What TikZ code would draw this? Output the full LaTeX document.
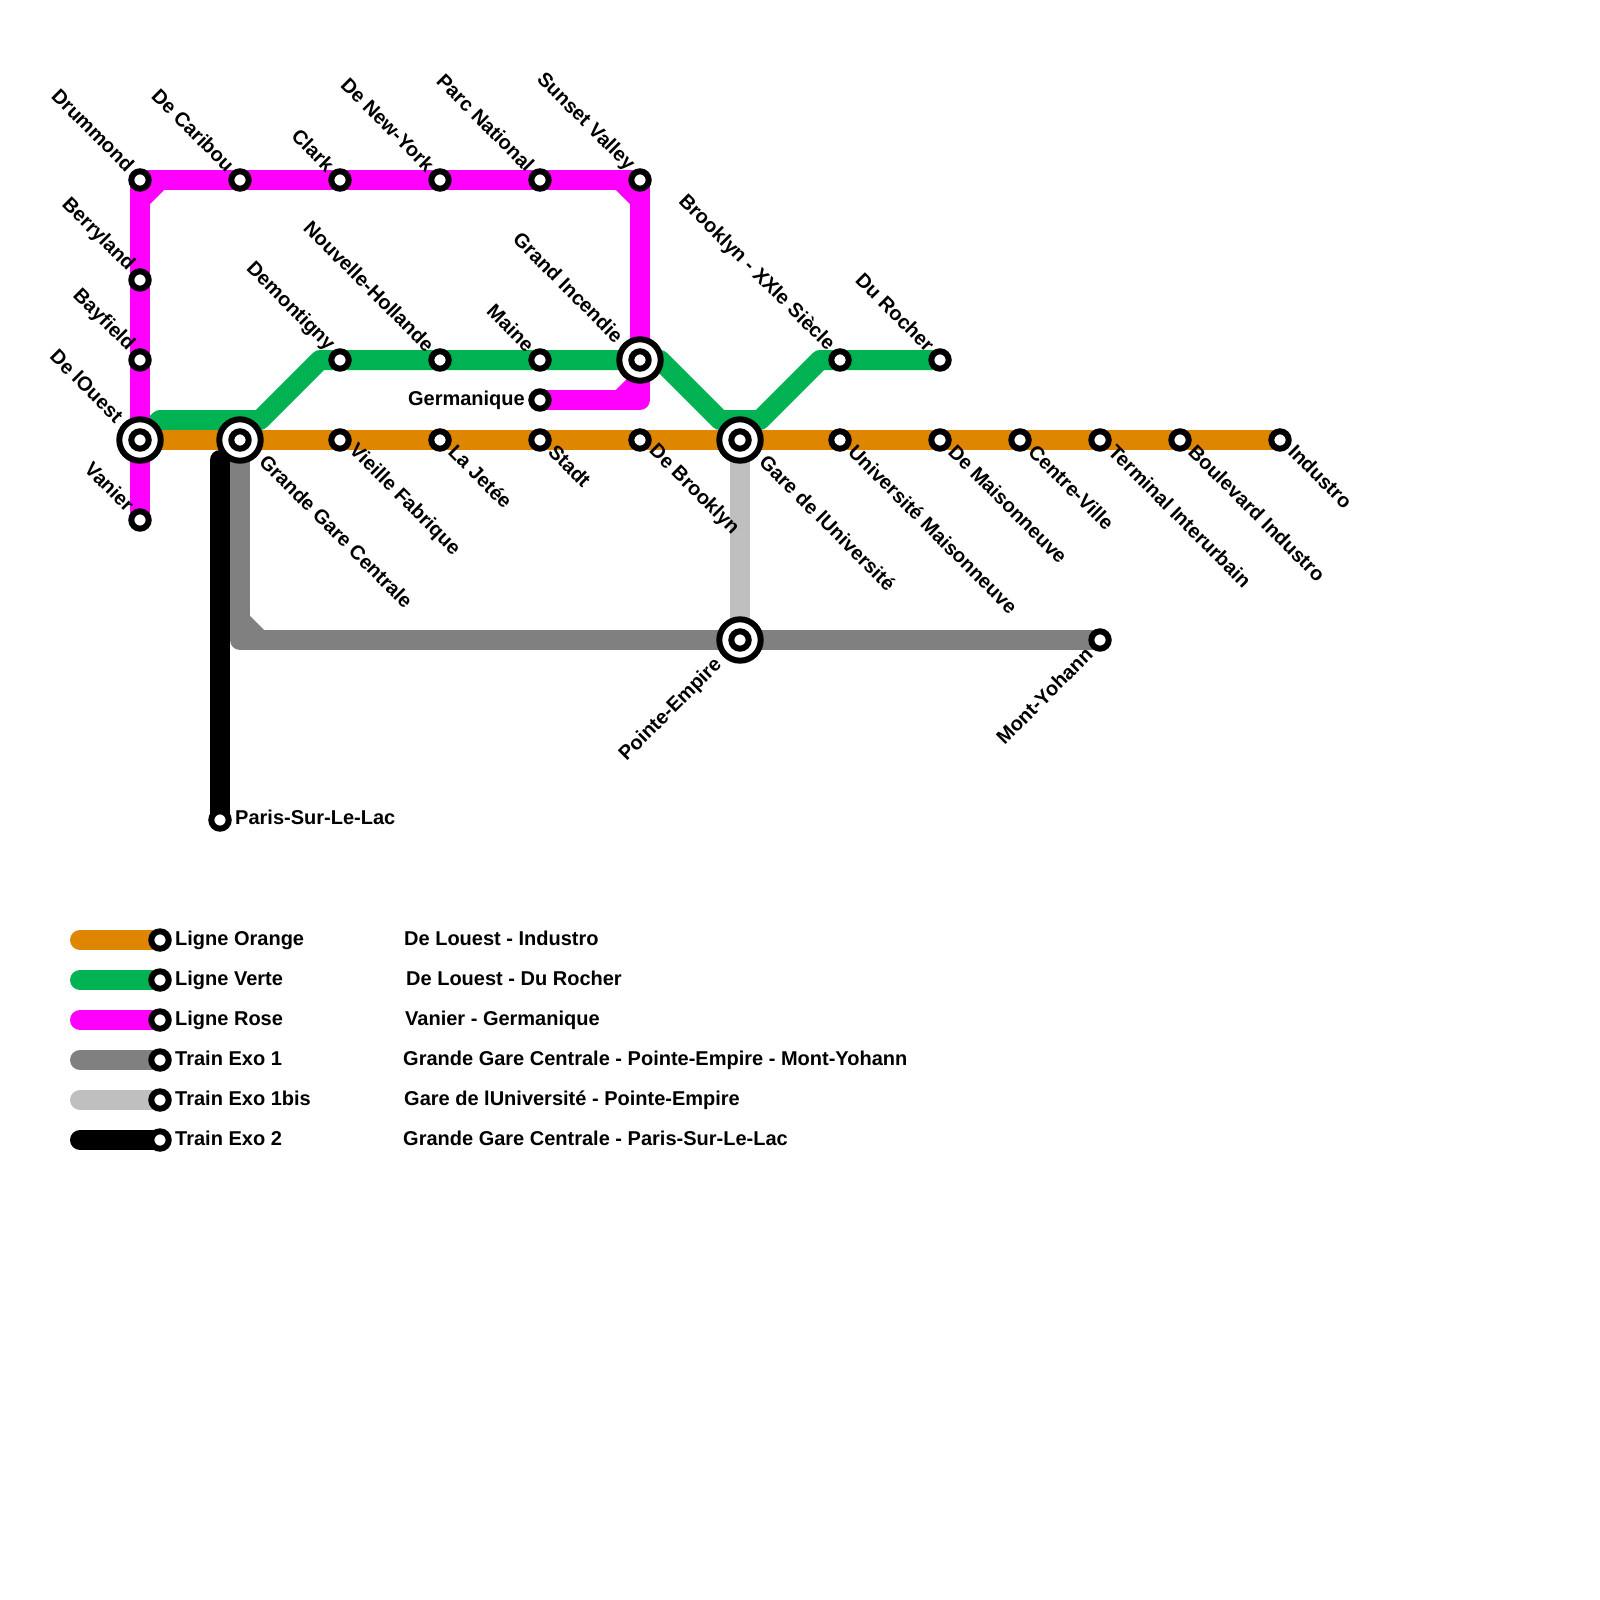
\documentclass[tikz,border=0pt]{standalone}
\usepackage{fontspec}
\setmainfont{Liberation Sans}[BoldFont={Liberation Sans Bold}]
\definecolor{lorange}{HTML}{DF8600}
\definecolor{lverte}{HTML}{00B251}
\definecolor{lrose}{HTML}{FF00FF}
\definecolor{lexoa}{HTML}{808080}
\definecolor{lexob}{HTML}{BFBFBF}
\tikzset{
 line/.style={line width=20pt,line join=round,line cap=round},
 stn/.style={circle,draw=black,fill=white,line width=6pt,minimum size=17.4pt,inner sep=0pt,outer sep=0pt},
 hub/.style={circle,draw=black,fill=white,line width=6pt,minimum size=41.4pt,inner sep=0pt,outer sep=0pt},
 txt/.style={font=\fontsize{20pt}{22pt}\selectfont\bfseries,inner sep=0pt,text=black},
 lnw/.style={txt,rotate=-45,anchor=east},
 lse/.style={txt,rotate=-45,anchor=west},
 lsw/.style={txt,rotate=45,anchor=east},
 leg/.style={txt,anchor=base west},
}
\begin{document}
\begin{tikzpicture}[x=1pt,y=-1pt]
\useasboundingbox (0,0) rectangle (1600,1600);
% stations
\foreach \n/\x/\y in {drummond/140/180,caribou/240/180,clark/340/180,newyork/440/180,parc/540/180,sunset/640/180,
 berryland/140/280,bayfield/140/360,ouest/140/440,vanier/140/520,
 demontigny/340/360,nouvelle/440/360,maine/540/360,incendie/640/360,germanique/540/400,
 brooklynxx/840/360,rocher/940/360,
 grande/240/440,vieille/340/440,jetee/440/440,stadt/540/440,debrooklyn/640/440,gareu/740/440,
 univ/840/440,maisonneuve/940/440,centre/1020/440,terminal/1100/440,boulevard/1180/440,industro/1280/440,
 empire/740/640,yohann/1100/640,paris/220/820,
 oa/160/940,va/160/980,ra/160/1020,ea/160/1060,ba/160/1100,ka/160/1140,
 oz/80/940,vz/80/980,rz/80/1020,ez/80/1060,bz/80/1100,kz/80/1140,
 g1/160/420,g2/260/420,g3/320/360,g4/660/360,g5/720/420,g6/760/420,g7/820/360,
 r1/140/200,r2/160/180,r3/620/180,r4/640/200,r5/640/380,r6/620/400,r7/640/400,
 e1/240/620,e2/260/640,e3/240/640,k1/220/460}
 {\coordinate (\n) at (\x,\y);}
% lines
\draw[line,lexoa] (grande) -- (e3) -- (yohann);
\fill[lexoa] (e1) -- (e2) -- (e3) -- cycle;
\draw[line,lexob,line cap=butt] (gareu) -- (empire);
\draw[line,black] (k1) -- (paris);
\draw[line,lverte] (ouest) -- (g1) -- (g2) -- (g3) -- (g4) -- (g5) -- (g6) -- (g7) -- (rocher);
\draw[line,lrose] (vanier) -- (drummond) -- (sunset) -- (r7) -- (germanique);
\fill[lrose] (r1) -- (r2) -- (drummond) -- cycle;
\fill[lrose] (r3) -- (r4) -- (sunset) -- cycle;
\fill[lrose] (r5) -- (r6) -- (r7) -- cycle;
\draw[line,lrose,line cap=butt] (r1) -- (r2);
\draw[line,lrose,line cap=butt] (r3) -- (r4);
\draw[line,lrose,line cap=butt] (r5) -- (r6);
\draw[line,lexoa,line cap=butt] (e1) -- (e2);
\draw[line,lorange] (ouest) -- (industro);
% legend lines
\draw[line,lorange] (oz) -- (oa);
\draw[line,lverte] (vz) -- (va);
\draw[line,lrose] (rz) -- (ra);
\draw[line,lexoa] (ez) -- (ea);
\draw[line,lexob] (bz) -- (ba);
\draw[line,black] (kz) -- (ka);
% plain station markers
\foreach \n in {drummond,caribou,clark,newyork,parc,sunset,berryland,bayfield,vanier,demontigny,nouvelle,maine,germanique,
 brooklynxx,rocher,vieille,jetee,stadt,debrooklyn,univ,maisonneuve,centre,terminal,boulevard,industro,yohann,paris,
 oa,va,ra,ea,ba,ka}
 {\node[stn] (s-\n) at (\n) {};}
% interchange markers
\foreach \n in {ouest,grande,incendie,gareu,empire}
 {\node[hub] (h-\n) at (\n) {}; \node[stn] (s-\n) at (\n) {};}
% labels NW
\node[lnw] (l1) at ([shift={(-9,-12)}]drummond) {Drummond};
\node[lnw] (l2) at ([shift={(-9,-12)}]caribou) {De Caribou};
\node[lnw] (l3) at ([shift={(-9,-12)}]clark) {Clark};
\node[lnw] (l4) at ([shift={(-9,-12)}]newyork) {De New-York};
\node[lnw] (l5) at ([shift={(-9,-12)}]parc) {Parc National};
\node[lnw] (l6) at ([shift={(-9,-12)}]sunset) {Sunset Valley};
\node[lnw] (l7) at ([shift={(-9,-12)}]berryland) {Berryland};
\node[lnw] (l8) at ([shift={(-9,-12)}]bayfield) {Bayfield};
\node[lnw] (l9) at ([shift={(-20,-21)}]ouest) {De lOuest};
\node[lnw] (l10) at ([shift={(-9,-12)}]vanier) {Vanier};
\node[lnw] (l11) at ([shift={(-9,-12)}]demontigny) {Demontigny};
\node[lnw] (l12) at ([shift={(-9,-12)}]nouvelle) {Nouvelle-Hollande};
\node[lnw] (l13) at ([shift={(-9,-12)}]maine) {Maine};
\node[lnw] (l14) at ([shift={(-20,-21)}]incendie) {Grand Incendie};
\node[lnw] (l15) at ([shift={(-9,-12)}]brooklynxx) {Brooklyn - XXIe Siècle};
\node[lnw] (l16) at ([shift={(-9,-12)}]rocher) {Du Rocher};
% labels SE
\node[lse] (l17) at ([shift={(23,18)}]grande) {Grande Gare Centrale};
\node[lse] (l18) at ([shift={(12,8)}]vieille) {Vieille Fabrique};
\node[lse] (l19) at ([shift={(12,8)}]jetee) {La Jetée};
\node[lse] (l20) at ([shift={(12,8)}]stadt) {Stadt};
\node[lse] (l21) at ([shift={(12,8)}]debrooklyn) {De Brooklyn};
\node[lse] (l22) at ([shift={(23,18)}]gareu) {Gare de lUniversité};
\node[lse] (l23) at ([shift={(12,8)}]univ) {Université Maisonneuve};
\node[lse] (l24) at ([shift={(12,8)}]maisonneuve) {De Maisonneuve};
\node[lse] (l25) at ([shift={(12,8)}]centre) {Centre-Ville};
\node[lse] (l26) at ([shift={(12,8)}]terminal) {Terminal Interurbain};
\node[lse] (l27) at ([shift={(12,8)}]boulevard) {Boulevard Industro};
\node[lse] (l28) at ([shift={(12,8)}]industro) {Industro};
% labels SW
\node[lsw] (l29) at ([shift={(-21,22)}]empire) {Pointe-Empire};
\node[lsw] (l30) at ([shift={(-11,11)}]yohann) {Mont-Yohann};
% horizontal
\node[leg] (l31) at (235,824) {Paris-Sur-Le-Lac};
\node[txt,anchor=base east] (l32) at (525,405) {Germanique};
% legend
\node[leg] (a1) at (175,945) {Ligne Orange};
\node[leg] (a2) at (175,985) {Ligne Verte};
\node[leg] (a3) at (175,1025) {Ligne Rose};
\node[leg] (a4) at (175,1065) {Train Exo 1};
\node[leg] (a5) at (175,1105) {Train Exo 1bis};
\node[leg] (a6) at (175,1145) {Train Exo 2};
\node[leg] (b1) at (404,945) {De Louest - Industro};
\node[leg] (b2) at (406,985) {De Louest - Du Rocher};
\node[leg] (b3) at (405,1025) {Vanier - Germanique};
\node[leg] (b4) at (403,1065) {Grande Gare Centrale - Pointe-Empire - Mont-Yohann};
\node[leg] (b5) at (404,1105) {Gare de lUniversité - Pointe-Empire};
\node[leg] (b6) at (403,1145) {Grande Gare Centrale - Paris-Sur-Le-Lac};
\end{tikzpicture}
\end{document}
